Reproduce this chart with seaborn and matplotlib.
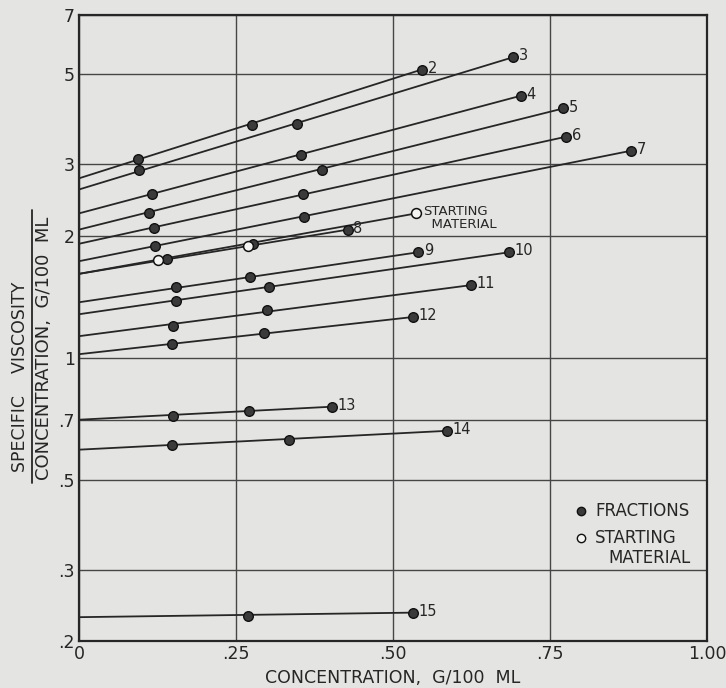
"""
Specific viscosity / concentration vs concentration — fractions + starting material
"""

import numpy as np
import pandas as pd
import matplotlib
matplotlib.use("Agg")
import matplotlib.pyplot as plt
from matplotlib.lines import Line2D
import seaborn as sns

# ─────────────────────────────────────────────
# 0. DATA
# ─────────────────────────────────────────────
# value extrapolated to zero concentration for each line
INTERCEPTS = {
    "2": 2.77, "3": 2.60, "4": 2.27, "5": 2.07, "6": 1.91, "7": 1.73,
    "8": 1.61, "SM": 1.61, "9": 1.37, "10": 1.28, "11": 1.13,
    "12": 1.02, "13": 0.703, "14": 0.593, "15": 0.229,
}

conc_2  = [0.094, 0.275, 0.546];  visc_2  = [3.10, 3.75, 5.14]
conc_3  = [0.096, 0.347, 0.691];  visc_3  = [2.90, 3.77, 5.51]
conc_4  = [0.116, 0.354, 0.704];  visc_4  = [2.53, 3.17, 4.43]
conc_5  = [0.111, 0.387, 0.771];  visc_5  = [2.28, 2.91, 4.12]
conc_6  = [0.119, 0.357, 0.776];  visc_6  = [2.09, 2.53, 3.51]
conc_7  = [0.121, 0.358, 0.879];  visc_7  = [1.89, 2.23, 3.24]
conc_8  = [0.140, 0.277, 0.428];  visc_8  = [1.75, 1.91, 2.07]
conc_sm = [0.126, 0.269, 0.537];  visc_sm = [1.74, 1.89, 2.27]
conc_9  = [0.154, 0.272, 0.540];  visc_9  = [1.49, 1.58, 1.82]
conc_10 = [0.154, 0.303, 0.685];  visc_10 = [1.38, 1.49, 1.82]
conc_11 = [0.150, 0.299, 0.624];  visc_11 = [1.20, 1.31, 1.51]
conc_12 = [0.148, 0.295, 0.532];  visc_12 = [1.08, 1.15, 1.26]
conc_13 = [0.150, 0.271, 0.403];  visc_13 = [0.719, 0.740, 0.757]
conc_14 = [0.148, 0.334, 0.586];  visc_14 = [0.610, 0.628, 0.660]
conc_15 = [0.269, 0.532];         visc_15 = [0.231, 0.235]

SERIES = [
    ("2", conc_2, visc_2), ("3", conc_3, visc_3), ("4", conc_4, visc_4),
    ("5", conc_5, visc_5), ("6", conc_6, visc_6), ("7", conc_7, visc_7),
    ("8", conc_8, visc_8), ("SM", conc_sm, visc_sm), ("9", conc_9, visc_9),
    ("10", conc_10, visc_10), ("11", conc_11, visc_11), ("12", conc_12, visc_12),
    ("13", conc_13, visc_13), ("14", conc_14, visc_14), ("15", conc_15, visc_15),
]

Y_TICKS  = [0.2, 0.3, 0.5, 0.7, 1, 2, 3, 5, 7]
Y_LABELS = [".2", ".3", ".5", ".7", "1", "2", "3", "5", "7"]
X_TICKS  = [0, 0.25, 0.5, 0.75, 1.0]
X_LABELS = ["0", ".25", ".50", ".75", "1.00"]

# ─────────────────────────────────────────────
# 1. LONG TABLES FOR SEABORN
# ─────────────────────────────────────────────
pts, segs = [], []
for name, xs, vs in SERIES:
    kind = "STARTING MATERIAL" if name == "SM" else "FRACTIONS"
    for x, v in zip(xs, vs):
        pts.append({"conc": x, "visc": v, "series": name, "kind": kind})
    # straight line (on the log axis) from the zero-conc value to the last point
    segs.append({"conc": 0.0, "visc": INTERCEPTS[name], "series": name})
    segs.append({"conc": xs[-1], "visc": vs[-1], "series": name})
pts_df = pd.DataFrame(pts)
seg_df = pd.DataFrame(segs)

# ─────────────────────────────────────────────
# 2. PLOT
# ─────────────────────────────────────────────
PAPER = "#e4e4e2"
INK   = "#262626"
DOT   = "#3a3a3a"
OPEN  = "#f4f4f2"

sns.set_theme(style="whitegrid")
plt.rcParams["font.family"] = ["DejaVu Sans"]

fig = plt.figure(figsize=(7.26, 6.88), dpi=100, facecolor=PAPER)
ax = fig.add_axes([0.1088, 0.0683, 0.8650, 0.9097], facecolor=PAPER)

sns.lineplot(data=seg_df, x="conc", y="visc", units="series", estimator=None,
             color=INK, lw=1.3, ax=ax, legend=False, sort=False)

frac = pts_df[pts_df["kind"] == "FRACTIONS"]
start = pts_df[pts_df["kind"] != "FRACTIONS"]
sns.scatterplot(data=frac, x="conc", y="visc", color=DOT,
                edgecolor="#111111", linewidth=1.0, s=48, ax=ax,
                legend=False, zorder=5)
sns.scatterplot(data=start, x="conc", y="visc", color=OPEN,
                edgecolor="#111111", linewidth=1.1, s=50, ax=ax,
                legend=False, zorder=5)

# number labels at the end of each line
for name, xs, vs in SERIES:
    if name == "SM":
        ax.annotate("STARTING\n  MATERIAL", (xs[-1], vs[-1]),
                    xytext=(5, 6), textcoords="offset points",
                    ha="left", va="top", fontsize=9.5, color=INK,
                    linespacing=1.0)
    else:
        ax.annotate(name, (xs[-1], vs[-1]), xytext=(4, 1),
                    textcoords="offset points", ha="left", va="center",
                    fontsize=10.5, color=INK)

# axes, scale and grid
ax.set_yscale("log")
ax.set_xlim(0, 1.0)
ax.set_ylim(0.2, 7)
ax.set_yticks(Y_TICKS)
ax.set_yticklabels(Y_LABELS)
ax.yaxis.set_minor_locator(matplotlib.ticker.NullLocator())
ax.set_xticks(X_TICKS)
ax.set_xticklabels(X_LABELS)
ax.tick_params(length=0, labelsize=12.5, colors=INK, pad=3)
ax.grid(True, color="#464646", lw=1.0)
for sp in ax.spines.values():
    sp.set_color(INK)
    sp.set_linewidth(1.6)

ax.set_xlabel("CONCENTRATION,  G/100  ML", fontsize=12.5, color=INK, labelpad=4)
ax.set_ylabel("")

# stacked y label: specific viscosity over concentration
fig.text(0.028, 0.452, "SPECIFIC    VISCOSITY", rotation=90,
         ha="center", va="center", fontsize=12.5, color=INK)
fig.text(0.060, 0.494, "CONCENTRATION,  G/100  ML", rotation=90,
         ha="center", va="center", fontsize=13, color=INK)
fig.add_artist(Line2D([0.044, 0.044], [0.298, 0.695], color=INK, lw=1.3,
                      transform=fig.transFigure))

# legend key (drawn by hand so the open dot sits on the first text line)
ax.plot([0.799], [0.208], marker="o", ls="", color=DOT, mec="#111111",
        ms=6, transform=ax.transAxes)
ax.plot([0.799], [0.165], marker="o", ls="", color=OPEN, mec="#111111",
        ms=6, transform=ax.transAxes)
ax.text(0.822, 0.208, "FRACTIONS", transform=ax.transAxes, ha="left",
        va="center", fontsize=12, color=INK)
ax.text(0.822, 0.165, "STARTING", transform=ax.transAxes, ha="left",
        va="center", fontsize=12, color=INK)
ax.text(0.843, 0.133, "MATERIAL", transform=ax.transAxes, ha="left",
        va="center", fontsize=12, color=INK)

fig.savefig("out.png", dpi=100, facecolor=PAPER)
print("saved out.png")
